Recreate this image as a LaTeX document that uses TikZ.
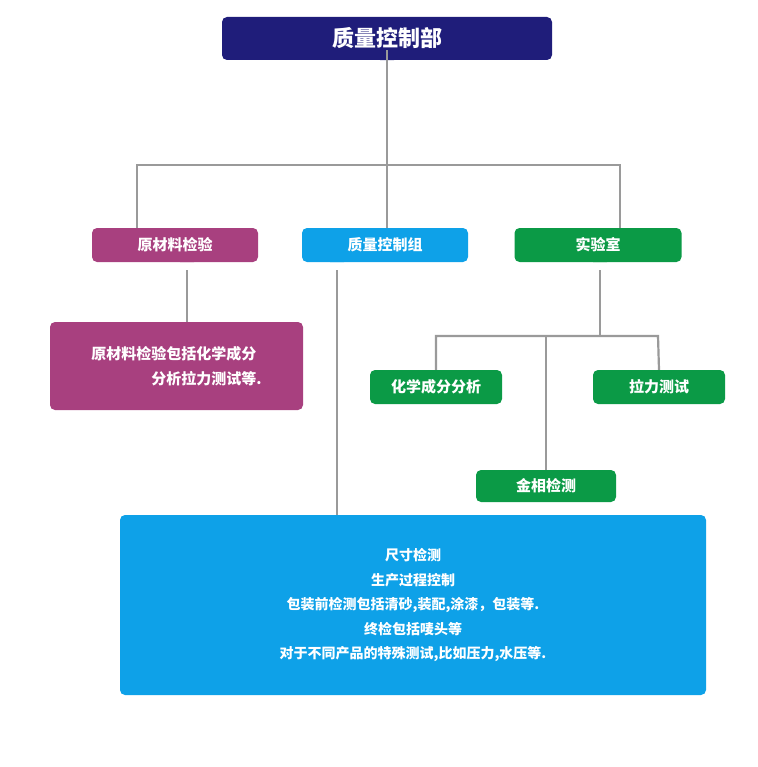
\documentclass[tikz,border=0pt]{standalone}
\usepackage{fontspec}
\setmainfont{Noto Sans CJK SC}
\usetikzlibrary{positioning}
\definecolor{topblue}{HTML}{1F1D7A}
\definecolor{lightblue}{HTML}{0EA1E8}
\definecolor{purp}{HTML}{A8407F}
\definecolor{grn}{HTML}{0B9A46}
\definecolor{linegray}{HTML}{9A9A9A}
\begin{document}
\begin{tikzpicture}[x=1pt,y=-1pt]
  \tikzset{box/.style={rounded corners=5pt,text=white,font=\bfseries\fontsize{15}{19}\selectfont,align=center,inner sep=0pt},
    conn/.style={draw=linegray,line width=2.2pt}}
  \useasboundingbox (0,0) rectangle (757,767);
  % boxes
  \node[box,fill=topblue,minimum width=330,minimum height=43,font=\bfseries\fontsize{22}{26}\selectfont] (head) at (387,38.5) {质量控制部};
  \node[box,fill=purp,minimum width=166,minimum height=34] (raw) at (175,245) {原材料检验};
  \node[box,fill=lightblue,minimum width=166,minimum height=34] (qc) at (385,245) {质量控制组};
  \node[box,fill=grn,minimum width=167,minimum height=34] (lab) at (598,245) {实验室};
  \node[box,fill=purp,minimum width=253,minimum height=88,align=left] (rawtxt) at (176.5,366) {原材料检验包括化学成分\\[6pt]\hspace*{4em}分析拉力测试等.};
  \node[box,fill=grn,minimum width=132,minimum height=34] (chem) at (436,387) {化学成分分析};
  \node[box,fill=grn,minimum width=132,minimum height=34] (tens) at (659,387) {拉力测试};
  \node[box,fill=grn,minimum width=140,minimum height=32] (metal) at (546,486) {金相检测};
  \node[box,fill=lightblue,minimum width=586,minimum height=180,font=\bfseries\fontsize{14}{24.5}\selectfont] (qctxt) at (413,605)
    {尺寸检测\\生产过程控制\\包装前检测包括清砂,装配,涂漆，包装等.\\终检包括唛头等\\对于不同产品的特殊测试,比如压力,水压等.};
  % pointers
  \fill[topblue] ([xshift=-7]head.south) -- ([xshift=7]head.south) -- ([yshift=8]head.south) -- cycle;
  \fill[purp] ([xshift=5]raw.south) -- ([xshift=19]raw.south) -- ([xshift=12,yshift=7]raw.south) -- cycle;
  \fill[lightblue] ([xshift=-55]qc.south) -- ([xshift=-41]qc.south) -- ([xshift=-48,yshift=7]qc.south) -- cycle;
  \fill[grn] ([xshift=-5]lab.south) -- ([xshift=9]lab.south) -- ([xshift=2,yshift=7]lab.south) -- cycle;
  % connectors
  \coordinate (hj) at (387,165);
  \draw[conn] ([yshift=10]head.south) -- (hj);
  \draw[conn] (137,228) |- (620,165) -- (620,228);
  \draw[conn] (hj) -- (387,228);
  \draw[conn] (187,270) -- (rawtxt.north -| 187,0);
  \draw[conn] (337,270) -- (qctxt.north -| 337,0);
  \draw[conn] (600,270) -- (600,336);
  \draw[conn] (chem.north) |- (658,336) -- (tens.north);
  \draw[conn] (546,336) -- (metal.north);
\end{tikzpicture}
\end{document}
